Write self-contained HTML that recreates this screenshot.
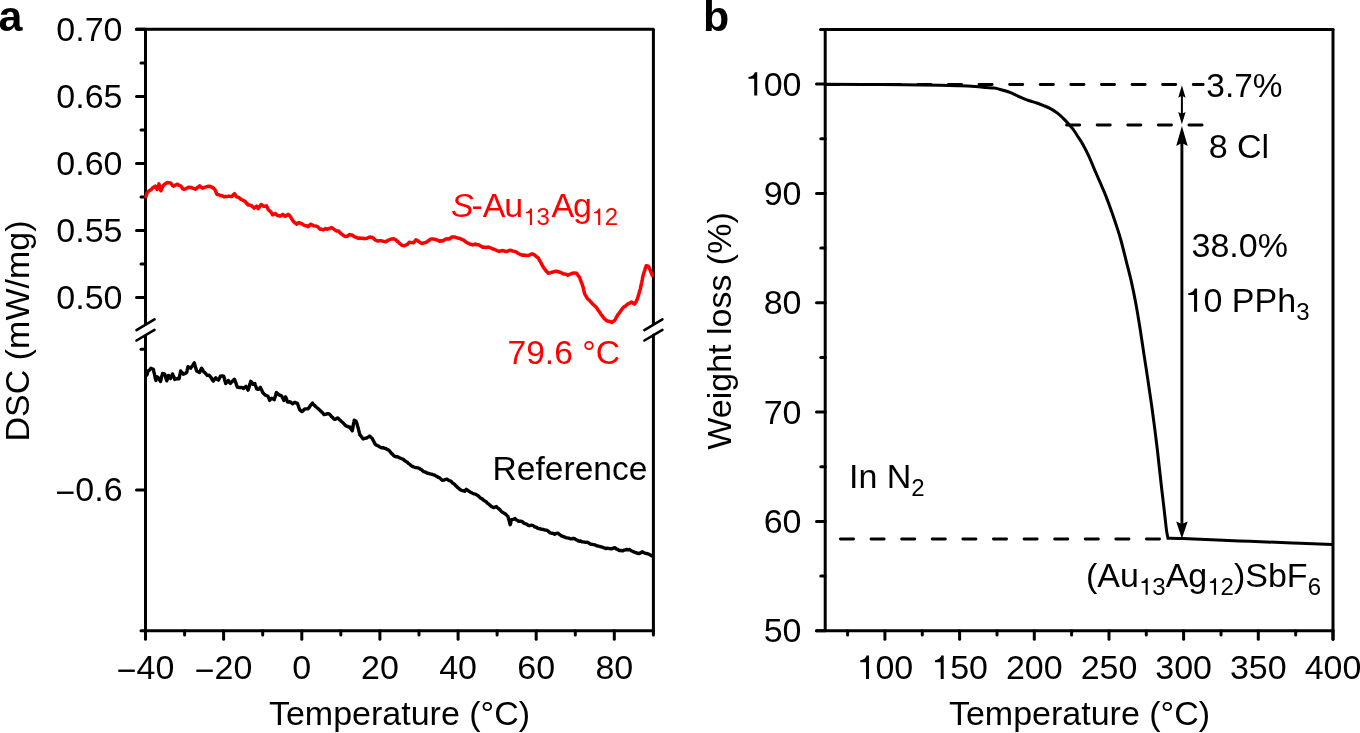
<!DOCTYPE html>
<html><head><meta charset="utf-8"><style>
html,body{margin:0;padding:0;background:#fff;overflow:hidden;}
svg{display:block;will-change:transform;font-family:"Liberation Sans",sans-serif;}
.one{fill-opacity:0;}
</style></head><body>
<svg width="1360" height="733" viewBox="0 0 1360 733">
<rect width="1360" height="733" fill="#fff"/>
<line x1="136.5" y1="29.3" x2="653.4" y2="29.3" stroke="#000" stroke-width="3" stroke-linecap="round" />
<line x1="145.5" y1="29.3" x2="145.5" y2="324.7" stroke="#000" stroke-width="3" stroke-linecap="butt" />
<line x1="145.5" y1="335.1" x2="145.5" y2="630.8" stroke="#000" stroke-width="3" stroke-linecap="butt" />
<line x1="653.4" y1="29.3" x2="653.4" y2="324.9" stroke="#000" stroke-width="3" stroke-linecap="butt" />
<line x1="653.4" y1="335.1" x2="653.4" y2="635.0" stroke="#000" stroke-width="3" stroke-linecap="round" />
<line x1="141.0" y1="630.8" x2="653.4" y2="630.8" stroke="#000" stroke-width="3" stroke-linecap="round" />
<line x1="136.5" y1="330.2" x2="154.5" y2="319.4" stroke="#000" stroke-width="2.6" stroke-linecap="round" />
<line x1="136.5" y1="340.5" x2="154.5" y2="329.8" stroke="#000" stroke-width="2.6" stroke-linecap="round" />
<line x1="644.4" y1="330.2" x2="662.4" y2="319.4" stroke="#000" stroke-width="2.6" stroke-linecap="round" />
<line x1="644.4" y1="340.5" x2="662.4" y2="329.8" stroke="#000" stroke-width="2.6" stroke-linecap="round" />
<line x1="136.5" y1="29.3" x2="145.5" y2="29.3" stroke="#000" stroke-width="3" stroke-linecap="round" />
<line x1="136.5" y1="96.4" x2="145.5" y2="96.4" stroke="#000" stroke-width="3" stroke-linecap="round" />
<line x1="136.5" y1="163.4" x2="145.5" y2="163.4" stroke="#000" stroke-width="3" stroke-linecap="round" />
<line x1="136.5" y1="230.4" x2="145.5" y2="230.4" stroke="#000" stroke-width="3" stroke-linecap="round" />
<line x1="136.5" y1="297.4" x2="145.5" y2="297.4" stroke="#000" stroke-width="3" stroke-linecap="round" />
<line x1="141.0" y1="62.9" x2="145.5" y2="62.9" stroke="#000" stroke-width="3" stroke-linecap="round" />
<line x1="141.0" y1="129.9" x2="145.5" y2="129.9" stroke="#000" stroke-width="3" stroke-linecap="round" />
<line x1="141.0" y1="196.9" x2="145.5" y2="196.9" stroke="#000" stroke-width="3" stroke-linecap="round" />
<line x1="141.0" y1="263.9" x2="145.5" y2="263.9" stroke="#000" stroke-width="3" stroke-linecap="round" />
<line x1="141.0" y1="349.2" x2="145.5" y2="349.2" stroke="#000" stroke-width="3" stroke-linecap="round" />
<line x1="136.5" y1="490.1" x2="145.5" y2="490.1" stroke="#000" stroke-width="3" stroke-linecap="round" />
<line x1="145.5" y1="630.8" x2="145.5" y2="639.2" stroke="#000" stroke-width="3" stroke-linecap="round" />
<line x1="223.6" y1="630.8" x2="223.6" y2="639.2" stroke="#000" stroke-width="3" stroke-linecap="round" />
<line x1="301.8" y1="630.8" x2="301.8" y2="639.2" stroke="#000" stroke-width="3" stroke-linecap="round" />
<line x1="379.9" y1="630.8" x2="379.9" y2="639.2" stroke="#000" stroke-width="3" stroke-linecap="round" />
<line x1="458.1" y1="630.8" x2="458.1" y2="639.2" stroke="#000" stroke-width="3" stroke-linecap="round" />
<line x1="536.2" y1="630.8" x2="536.2" y2="639.2" stroke="#000" stroke-width="3" stroke-linecap="round" />
<line x1="614.3" y1="630.8" x2="614.3" y2="639.2" stroke="#000" stroke-width="3" stroke-linecap="round" />
<line x1="184.6" y1="630.8" x2="184.6" y2="635.0" stroke="#000" stroke-width="3" stroke-linecap="round" />
<line x1="262.7" y1="630.8" x2="262.7" y2="635.0" stroke="#000" stroke-width="3" stroke-linecap="round" />
<line x1="340.8" y1="630.8" x2="340.8" y2="635.0" stroke="#000" stroke-width="3" stroke-linecap="round" />
<line x1="419.0" y1="630.8" x2="419.0" y2="635.0" stroke="#000" stroke-width="3" stroke-linecap="round" />
<line x1="497.1" y1="630.8" x2="497.1" y2="635.0" stroke="#000" stroke-width="3" stroke-linecap="round" />
<line x1="575.3" y1="630.8" x2="575.3" y2="635.0" stroke="#000" stroke-width="3" stroke-linecap="round" />
<text x="122.5" y="40.8" font-size="34" fill="#000" text-anchor="end" >0.70</text>
<text x="122.5" y="107.9" font-size="34" fill="#000" text-anchor="end" >0.65</text>
<text x="122.5" y="174.9" font-size="34" fill="#000" text-anchor="end" >0.60</text>
<text x="122.5" y="241.9" font-size="34" fill="#000" text-anchor="end" >0.55</text>
<text x="122.5" y="308.9" font-size="34" fill="#000" text-anchor="end" >0.50</text>
<text x="122.6" y="501.3" font-size="34" fill="#000" text-anchor="end" ><tspan dy="2.6">&#8722;</tspan><tspan dy="-2.6">0.6</tspan></text>
<text x="145.5" y="679.0" font-size="34" fill="#000" text-anchor="middle" ><tspan dy="2.6">&#8722;</tspan><tspan dy="-2.6">40</tspan></text>
<text x="223.6" y="679.0" font-size="34" fill="#000" text-anchor="middle" ><tspan dy="2.6">&#8722;</tspan><tspan dy="-2.6">20</tspan></text>
<text x="301.8" y="679.0" font-size="34" fill="#000" text-anchor="middle" >0</text>
<text x="379.9" y="679.0" font-size="34" fill="#000" text-anchor="middle" >20</text>
<text x="458.1" y="679.0" font-size="34" fill="#000" text-anchor="middle" >40</text>
<text x="536.2" y="679.0" font-size="34" fill="#000" text-anchor="middle" >60</text>
<text x="614.3" y="679.0" font-size="34" fill="#000" text-anchor="middle" >80</text>
<text x="399.5" y="725.3" font-size="34" fill="#000" text-anchor="middle" >Temperature (°C)</text>
<text x="0" y="0" font-size="34" text-anchor="middle" transform="translate(28.5,331) rotate(-90)">DSC (mW/mg)</text>
<text x="-1.5" y="31" font-size="43" font-weight="bold">a</text>
<line x1="820.8" y1="29.5" x2="1333.0" y2="29.5" stroke="#000" stroke-width="3" stroke-linecap="round" />
<line x1="825.2" y1="29.5" x2="825.2" y2="630.8" stroke="#000" stroke-width="3" stroke-linecap="butt" />
<line x1="1333.0" y1="29.5" x2="1333.0" y2="639.2" stroke="#000" stroke-width="3" stroke-linecap="round" />
<line x1="816.5" y1="630.8" x2="1333.0" y2="630.8" stroke="#000" stroke-width="3" stroke-linecap="round" />
<line x1="816.5" y1="630.8" x2="825.2" y2="630.8" stroke="#000" stroke-width="3" stroke-linecap="round" />
<line x1="816.5" y1="521.5" x2="825.2" y2="521.5" stroke="#000" stroke-width="3" stroke-linecap="round" />
<line x1="816.5" y1="412.1" x2="825.2" y2="412.1" stroke="#000" stroke-width="3" stroke-linecap="round" />
<line x1="816.5" y1="302.8" x2="825.2" y2="302.8" stroke="#000" stroke-width="3" stroke-linecap="round" />
<line x1="816.5" y1="193.4" x2="825.2" y2="193.4" stroke="#000" stroke-width="3" stroke-linecap="round" />
<line x1="816.5" y1="84.1" x2="825.2" y2="84.1" stroke="#000" stroke-width="3" stroke-linecap="round" />
<line x1="820.8" y1="576.1" x2="825.2" y2="576.1" stroke="#000" stroke-width="3" stroke-linecap="round" />
<line x1="820.8" y1="466.8" x2="825.2" y2="466.8" stroke="#000" stroke-width="3" stroke-linecap="round" />
<line x1="820.8" y1="357.4" x2="825.2" y2="357.4" stroke="#000" stroke-width="3" stroke-linecap="round" />
<line x1="820.8" y1="248.1" x2="825.2" y2="248.1" stroke="#000" stroke-width="3" stroke-linecap="round" />
<line x1="820.8" y1="138.8" x2="825.2" y2="138.8" stroke="#000" stroke-width="3" stroke-linecap="round" />
<line x1="820.8" y1="29.4" x2="825.2" y2="29.4" stroke="#000" stroke-width="3" stroke-linecap="round" />
<line x1="884.9" y1="630.8" x2="884.9" y2="639.2" stroke="#000" stroke-width="3" stroke-linecap="round" />
<line x1="959.6" y1="630.8" x2="959.6" y2="639.2" stroke="#000" stroke-width="3" stroke-linecap="round" />
<line x1="1034.3" y1="630.8" x2="1034.3" y2="639.2" stroke="#000" stroke-width="3" stroke-linecap="round" />
<line x1="1109.0" y1="630.8" x2="1109.0" y2="639.2" stroke="#000" stroke-width="3" stroke-linecap="round" />
<line x1="1183.6" y1="630.8" x2="1183.6" y2="639.2" stroke="#000" stroke-width="3" stroke-linecap="round" />
<line x1="1258.3" y1="630.8" x2="1258.3" y2="639.2" stroke="#000" stroke-width="3" stroke-linecap="round" />
<line x1="1333.0" y1="630.8" x2="1333.0" y2="639.2" stroke="#000" stroke-width="3" stroke-linecap="round" />
<line x1="847.6" y1="630.8" x2="847.6" y2="635.0" stroke="#000" stroke-width="3" stroke-linecap="round" />
<line x1="922.3" y1="630.8" x2="922.3" y2="635.0" stroke="#000" stroke-width="3" stroke-linecap="round" />
<line x1="997.0" y1="630.8" x2="997.0" y2="635.0" stroke="#000" stroke-width="3" stroke-linecap="round" />
<line x1="1071.6" y1="630.8" x2="1071.6" y2="635.0" stroke="#000" stroke-width="3" stroke-linecap="round" />
<line x1="1146.3" y1="630.8" x2="1146.3" y2="635.0" stroke="#000" stroke-width="3" stroke-linecap="round" />
<line x1="1221.0" y1="630.8" x2="1221.0" y2="635.0" stroke="#000" stroke-width="3" stroke-linecap="round" />
<line x1="1295.7" y1="630.8" x2="1295.7" y2="635.0" stroke="#000" stroke-width="3" stroke-linecap="round" />
<text x="801.5" y="642.3" font-size="34" fill="#000" text-anchor="end" >50</text>
<text x="801.5" y="533.0" font-size="34" fill="#000" text-anchor="end" >60</text>
<text x="801.5" y="423.6" font-size="34" fill="#000" text-anchor="end" >70</text>
<text x="801.5" y="314.3" font-size="34" fill="#000" text-anchor="end" >80</text>
<text x="801.5" y="204.9" font-size="34" fill="#000" text-anchor="end" >90</text>
<text x="801.5" y="95.6" font-size="34" fill="#000" text-anchor="end" ><tspan class="one">1</tspan>00</text>
<text x="884.9" y="679.0" font-size="34" fill="#000" text-anchor="middle" ><tspan class="one">1</tspan>00</text>
<text x="959.6" y="679.0" font-size="34" fill="#000" text-anchor="middle" ><tspan class="one">1</tspan>50</text>
<text x="1034.3" y="679.0" font-size="34" fill="#000" text-anchor="middle" >200</text>
<text x="1109.0" y="679.0" font-size="34" fill="#000" text-anchor="middle" >250</text>
<text x="1183.6" y="679.0" font-size="34" fill="#000" text-anchor="middle" >300</text>
<text x="1258.3" y="679.0" font-size="34" fill="#000" text-anchor="middle" >350</text>
<text x="1333.0" y="679.0" font-size="34" fill="#000" text-anchor="middle" >400</text>
<text x="1079.5" y="724.6" font-size="34" fill="#000" text-anchor="middle" >Temperature (°C)</text>
<text x="0" y="0" font-size="34" text-anchor="middle" transform="translate(731.3,331) rotate(-90)">Weight loss (%)</text>
<text x="703" y="31" font-size="43" font-weight="bold">b</text>
<path d="M146.0,196.5 L146.5,194.7 L147.0,193.2 L148.0,191.8 L149.0,190.8 L150.3,190.1 L151.6,189.2 L152.6,187.9 L153.6,187.2 L155.2,186.2 L156.2,187.9 L157.2,189.5 L157.6,188.0 L158.1,186.4 L158.5,185.3 L158.9,183.9 L159.3,185.0 L159.7,186.6 L160.1,187.7 L160.5,189.1 L160.9,190.8 L161.6,189.2 L162.2,188.0 L162.9,186.2 L164.2,184.6 L165.8,183.3 L167.5,182.6 L169.2,182.7 L170.8,183.2 L171.7,184.3 L172.5,185.5 L173.4,186.2 L174.7,185.6 L176.1,184.8 L177.4,184.2 L179.1,185.4 L180.7,185.9 L181.7,187.1 L182.7,188.9 L184.1,189.2 L185.4,188.9 L186.7,188.2 L188.0,187.5 L189.3,187.2 L190.9,187.4 L192.6,188.2 L193.9,188.6 L195.3,189.2 L196.4,188.6 L197.4,187.3 L198.5,186.8 L199.6,185.9 L201.1,187.1 L202.6,188.2 L203.9,187.6 L205.2,187.2 L206.8,186.7 L208.5,186.2 L210.1,186.5 L211.6,187.0 L213.2,187.9 L214.1,188.7 L215.1,189.9 L215.8,191.6 L216.4,192.9 L217.1,194.5 L218.4,194.7 L219.8,195.2 L221.1,195.5 L222.8,196.1 L224.4,196.8 L225.9,196.4 L227.5,196.5 L229.0,196.1 L230.5,196.4 L232.0,196.4 L233.2,194.9 L234.5,193.7 L235.5,195.3 L236.5,196.8 L237.8,197.2 L239.0,197.6 L240.1,198.7 L241.2,199.4 L242.3,200.0 L243.9,200.7 L245.5,201.7 L246.3,203.1 L247.2,203.6 L248.0,205.0 L249.7,205.1 L251.3,205.4 L252.2,206.5 L253.2,207.0 L254.1,208.2 L255.4,207.2 L256.6,206.2 L257.4,207.1 L258.2,208.6 L259.2,207.4 L260.1,206.1 L261.1,204.5 L262.4,205.4 L263.6,206.2 L265.0,206.3 L266.4,205.8 L267.1,207.0 L267.8,208.7 L268.5,209.9 L269.7,211.0 L270.9,211.9 L271.8,213.4 L272.6,214.8 L274.0,214.2 L275.4,213.6 L277.1,215.2 L278.5,215.8 L279.9,216.0 L281.4,215.5 L282.8,214.4 L284.0,215.4 L285.2,216.4 L286.6,215.5 L288.1,214.4 L289.4,215.3 L290.6,216.8 L291.3,218.1 L292.0,219.2 L292.7,220.5 L293.4,221.3 L294.5,222.5 L295.6,223.1 L296.7,224.2 L298.7,222.6 L300.4,223.1 L302.0,223.8 L303.2,224.7 L304.5,225.4 L306.3,225.7 L308.1,226.6 L309.4,225.4 L310.6,224.2 L312.1,224.8 L313.5,225.8 L315.4,225.9 L317.3,226.6 L318.3,227.2 L319.3,228.5 L320.3,229.2 L321.8,229.3 L323.3,229.9 L324.5,229.1 L325.6,228.6 L327.6,229.2 L328.8,228.6 L330.0,228.4 L331.2,227.6 L332.4,228.0 L333.5,228.9 L334.9,229.9 L336.2,230.9 L338.5,230.9 L339.6,232.2 L340.8,233.5 L342.8,234.9 L344.8,236.5 L347.1,236.2 L348.2,235.6 L349.4,234.5 L351.0,235.1 L352.7,235.2 L354.0,236.5 L355.4,237.2 L356.7,237.5 L358.0,238.2 L359.6,238.1 L361.3,238.2 L362.6,238.2 L364.0,238.7 L365.3,238.5 L367.1,238.2 L368.9,237.2 L370.8,237.1 L372.6,237.5 L373.9,238.6 L375.2,240.1 L376.5,240.4 L377.9,241.1 L379.5,240.8 L381.2,240.8 L382.7,241.1 L384.3,241.5 L385.8,241.8 L386.9,241.0 L388.1,240.2 L389.2,239.8 L390.4,239.2 L392.1,238.9 L393.8,238.8 L395.7,239.8 L397.0,241.0 L398.4,242.1 L399.5,243.4 L400.6,244.2 L401.7,245.1 L404.0,245.8 L405.6,245.2 L407.3,244.5 L408.3,243.4 L409.3,242.2 L410.6,242.6 L411.9,242.4 L413.2,242.9 L414.1,242.2 L415.0,241.1 L415.9,239.9 L417.9,240.9 L419.2,242.0 L420.5,242.8 L421.8,243.5 L423.4,243.0 L424.9,242.6 L426.5,242.2 L427.8,240.9 L429.1,240.3 L430.4,239.2 L431.7,238.9 L433.1,238.9 L434.4,239.2 L435.7,239.5 L437.0,240.0 L438.4,240.6 L439.7,241.2 L441.4,240.7 L443.0,240.9 L444.6,239.6 L446.3,238.9 L448.0,238.7 L449.6,238.9 L451.0,237.6 L452.3,236.9 L453.6,237.0 L455.0,237.0 L456.3,237.6 L458.0,238.2 L459.6,238.2 L461.2,239.1 L462.9,239.9 L464.0,240.4 L465.1,241.3 L466.2,242.2 L467.5,242.8 L468.9,243.4 L470.2,244.2 L471.5,244.3 L472.8,244.9 L474.1,244.6 L475.4,243.9 L476.7,244.7 L478.1,244.7 L479.4,245.2 L481.0,246.2 L482.7,247.2 L484.4,247.1 L486.0,247.5 L488.4,247.1 L490.1,247.6 L491.8,248.6 L493.2,249.0 L494.5,249.4 L495.9,250.0 L497.6,250.9 L499.3,251.4 L500.7,250.9 L502.0,250.6 L503.4,250.7 L505.1,251.4 L506.8,251.4 L508.2,250.9 L509.6,250.3 L511.2,250.4 L512.7,251.1 L514.3,251.4 L516.0,251.9 L517.7,253.1 L519.5,254.0 L521.2,254.8 L522.9,255.3 L524.6,255.1 L526.0,255.5 L527.3,255.5 L528.7,255.5 L530.4,254.5 L532.1,253.8 L533.2,254.4 L534.4,254.9 L535.5,255.8 L536.9,257.0 L538.2,257.9 L538.9,259.2 L539.6,260.6 L540.3,261.6 L541.0,262.7 L541.6,263.9 L542.3,265.4 L543.2,267.0 L544.1,268.4 L545.0,269.4 L546.1,270.9 L547.3,272.1 L548.4,273.2 L550.1,272.9 L551.8,272.2 L553.4,272.0 L555.0,271.3 L556.6,271.2 L558.3,271.7 L560.0,272.2 L561.7,272.9 L563.4,273.9 L564.9,274.0 L566.4,274.4 L567.9,275.2 L569.5,274.4 L571.0,273.9 L572.5,273.2 L574.1,272.9 L576.6,273.2 L577.4,274.4 L578.2,275.7 L578.9,276.4 L579.7,277.5 L580.2,279.2 L580.7,280.7 L581.3,282.1 L581.8,283.2 L582.3,284.7 L582.7,285.8 L583.0,287.1 L583.4,288.4 L583.7,289.8 L584.1,291.4 L584.4,292.9 L584.8,293.9 L585.4,295.3 L586.1,296.2 L586.8,297.5 L587.4,298.5 L588.4,299.7 L589.5,300.3 L590.5,301.7 L591.5,302.6 L592.4,303.8 L593.3,304.6 L594.3,305.5 L595.2,306.3 L596.1,307.2 L597.0,308.2 L597.9,310.0 L598.8,310.9 L599.7,312.3 L600.5,313.6 L601.3,314.9 L602.1,315.6 L602.9,316.7 L603.7,317.9 L604.9,319.2 L606.1,320.1 L607.3,321.0 L608.8,321.3 L610.4,321.7 L611.9,322.5 L612.9,321.4 L614.0,321.1 L615.0,319.9 L615.8,318.7 L616.5,316.9 L617.3,315.9 L618.1,314.3 L619.0,313.5 L619.8,312.2 L620.7,310.9 L621.5,309.9 L622.4,308.5 L623.2,307.7 L624.2,306.5 L625.2,306.4 L626.3,305.3 L627.3,304.4 L628.3,303.6 L629.8,303.1 L631.4,302.0 L632.9,303.0 L634.4,304.1 L635.2,303.1 L636.0,301.8 L636.7,300.1 L637.5,299.0 L637.8,297.6 L638.2,296.3 L638.5,295.1 L638.9,294.0 L639.2,292.6 L639.6,291.4 L639.9,290.0 L640.3,289.2 L640.6,287.7 L640.9,286.2 L641.2,285.0 L641.4,283.7 L641.7,282.6 L642.0,280.9 L642.3,279.9 L642.5,278.2 L642.8,276.9 L643.1,275.5 L643.5,274.1 L644.0,272.4 L644.4,271.3 L644.9,269.7 L645.3,268.2 L645.8,267.3 L646.2,265.7 L648.2,266.2 L648.9,267.3 L649.6,268.9 L650.3,270.3 L650.8,271.8 L651.3,272.9 L651.8,274.1 L652.3,275.5" fill="none" stroke="#ff0000" stroke-width="3.5" stroke-linejoin="round" stroke-linecap="round"/>
<path d="M147.0,374.9 L147.3,373.6 L147.7,372.3 L148.0,370.9 L149.3,370.2 L150.9,368.2 L152.1,368.9 L153.3,369.2 L153.6,370.3 L153.9,372.1 L154.3,373.3 L154.6,374.9 L154.9,376.1 L155.2,377.9 L155.6,379.1 L155.9,380.5 L156.3,379.3 L156.8,378.2 L157.2,376.8 L158.9,378.2 L159.7,380.1 L160.5,381.5 L160.8,380.1 L161.2,378.9 L161.5,377.5 L161.8,376.2 L162.2,375.0 L162.5,373.5 L164.8,374.2 L165.2,375.5 L165.6,376.9 L166.0,378.1 L166.4,379.8 L166.8,380.8 L167.2,379.6 L167.7,378.4 L168.1,377.1 L168.5,375.5 L169.5,376.8 L170.5,378.5 L171.2,377.0 L171.8,375.7 L172.5,373.9 L173.1,375.5 L173.7,376.4 L174.2,377.8 L174.8,379.5 L176.1,379.0 L177.4,378.5 L179.1,378.8 L179.4,377.2 L179.6,376.0 L179.9,374.6 L180.2,373.7 L180.4,372.4 L180.7,370.9 L181.6,372.3 L182.5,372.9 L183.4,374.2 L185.1,373.5 L186.7,372.5 L187.0,371.1 L187.3,369.3 L187.7,368.3 L188.0,366.6 L189.3,367.7 L190.7,368.2 L191.6,366.7 L192.5,365.9 L193.4,364.2 L194.3,362.9 L194.7,364.2 L195.1,365.9 L195.4,367.1 L195.8,368.0 L196.2,369.5 L196.6,370.9 L198.1,371.7 L199.6,372.5 L200.3,371.0 L200.9,369.4 L201.6,368.2 L202.4,369.3 L203.1,370.8 L203.9,371.9 L205.0,372.7 L206.1,374.1 L207.2,375.2 L209.2,375.2 L210.0,376.3 L210.8,377.2 L211.6,378.6 L212.4,380.0 L213.2,381.1 L214.1,380.0 L214.9,378.6 L215.8,377.8 L217.1,379.3 L218.4,380.1 L219.1,379.0 L219.7,377.8 L220.4,376.2 L222.1,375.9 L223.7,376.2 L224.1,377.5 L224.5,378.8 L224.9,380.8 L225.3,381.9 L225.7,383.5 L226.6,382.2 L227.5,381.4 L228.4,380.5 L229.4,382.3 L230.4,383.5 L232.0,381.6 L233.2,380.6 L234.4,379.2 L235.0,380.5 L235.5,381.9 L236.1,383.6 L236.6,385.2 L237.0,386.2 L237.5,387.4 L239.2,387.5 L240.9,387.4 L242.2,387.6 L243.6,388.4 L244.8,387.1 L246.0,386.4 L246.7,387.8 L247.4,388.8 L248.1,390.1 L248.5,388.5 L248.9,387.9 L249.3,386.4 L249.6,385.3 L250.0,383.5 L250.4,382.8 L250.8,381.3 L251.9,382.5 L252.9,384.3 L254.9,383.6 L255.3,385.2 L255.8,386.2 L256.2,387.4 L256.6,388.8 L258.3,389.4 L259.4,388.4 L260.4,387.4 L261.0,389.0 L261.5,389.8 L262.1,391.0 L262.7,392.5 L264.1,393.9 L265.5,395.2 L266.7,395.6 L267.9,396.3 L268.5,397.4 L269.0,398.8 L269.6,400.4 L270.6,399.0 L271.6,398.3 L273.0,398.8 L274.3,399.7 L274.7,398.1 L275.1,396.7 L275.6,395.6 L276.0,393.8 L276.4,392.5 L277.8,393.7 L279.1,394.9 L281.5,395.9 L282.3,397.2 L283.1,398.8 L283.9,400.4 L284.8,398.3 L285.6,396.9 L286.1,398.0 L286.6,399.2 L287.1,401.0 L287.6,402.1 L290.0,401.7 L291.2,402.8 L292.4,403.8 L293.6,402.9 L294.8,402.4 L296.1,402.9 L297.5,403.4 L297.9,404.9 L298.3,405.6 L298.8,407.3 L299.2,408.3 L299.6,409.6 L300.8,410.6 L302.0,411.6 L303.0,410.9 L304.0,409.7 L305.0,408.9 L306.4,408.9 L307.8,408.9 L308.6,408.0 L309.4,407.2 L310.2,405.8 L311.4,404.3 L312.5,403.1 L313.4,404.4 L314.4,405.3 L315.3,406.2 L316.5,407.3 L317.6,408.2 L318.8,409.3 L319.9,410.3 L320.9,411.1 L322.0,412.2 L323.0,413.2 L324.1,414.6 L325.5,414.4 L327.0,413.8 L328.4,413.6 L329.5,414.3 L330.5,415.3 L331.6,416.8 L332.7,417.5 L333.6,418.7 L334.6,419.4 L336.1,418.8 L337.5,417.9 L338.6,418.7 L339.6,419.7 L340.7,420.7 L341.8,421.8 L342.9,422.8 L344.0,423.7 L345.0,425.0 L346.1,426.1 L347.4,426.2 L348.6,427.0 L349.9,427.0 L350.7,428.6 L351.5,429.6 L352.3,430.8 L352.5,429.3 L352.8,428.5 L353.0,426.7 L353.2,425.4 L353.5,423.9 L353.7,422.8 L354.0,421.6 L354.2,420.3 L356.1,421.3 L356.6,422.9 L357.1,424.2 L357.5,426.0 L358.0,427.5 L358.3,428.4 L358.6,429.9 L358.9,431.0 L359.3,432.5 L359.6,433.5 L359.9,435.1 L361.0,436.1 L362.1,437.6 L363.2,439.0 L364.9,438.3 L366.6,438.0 L368.1,437.1 L369.5,436.1 L370.9,437.3 L372.3,438.5 L373.0,440.1 L373.8,441.5 L374.5,442.9 L375.2,444.2 L376.4,445.2 L377.6,445.6 L378.8,446.3 L380.0,447.1 L381.4,447.8 L382.9,447.6 L384.3,448.3 L385.7,448.5 L387.0,449.4 L388.2,449.8 L389.5,450.9 L390.5,452.2 L391.4,453.3 L392.4,454.1 L393.3,455.2 L394.3,456.1 L395.9,456.8 L397.5,456.8 L399.1,457.6 L400.5,458.2 L401.9,458.8 L403.3,459.4 L404.7,460.6 L406.0,461.5 L407.4,462.3 L408.6,463.6 L409.9,464.4 L411.1,465.6 L412.3,466.4 L413.7,466.9 L415.0,467.3 L416.4,467.6 L417.8,467.9 L419.1,468.3 L420.5,469.2 L421.6,469.8 L422.6,470.8 L423.7,471.7 L425.3,472.0 L427.0,473.0 L428.6,473.3 L430.1,473.8 L431.5,474.2 L432.9,474.7 L434.4,475.0 L435.8,475.9 L437.1,476.6 L438.5,477.4 L439.9,478.0 L441.2,479.5 L442.6,480.3 L443.9,480.1 L445.3,479.5 L446.6,479.1 L447.9,479.8 L449.1,480.6 L450.4,480.9 L451.6,481.9 L452.6,483.0 L453.6,483.6 L454.6,484.4 L455.6,485.6 L456.6,486.4 L457.6,487.6 L458.7,488.2 L459.7,489.3 L460.9,490.0 L462.1,490.6 L463.4,490.8 L464.6,491.3 L465.5,490.2 L466.3,489.3 L467.5,490.1 L468.8,491.1 L470.0,492.0 L471.2,492.6 L472.6,493.3 L474.0,493.9 L475.5,494.1 L476.9,495.0 L477.9,495.6 L478.9,496.5 L480.0,497.6 L481.0,498.3 L482.4,499.1 L483.7,500.2 L485.1,501.1 L486.4,502.0 L487.7,503.5 L488.8,504.1 L490.0,505.2 L491.1,506.3 L492.5,507.1 L493.9,507.6 L495.1,507.2 L496.3,506.6 L497.5,507.7 L498.6,508.6 L499.8,509.6 L500.9,510.9 L502.1,512.1 L503.6,512.9 L505.1,513.8 L506.5,515.1 L507.9,516.5 L508.3,517.7 L508.8,519.7 L509.2,520.9 L509.5,522.0 L509.9,523.8 L510.2,524.7 L510.6,523.7 L510.9,521.8 L511.2,520.8 L511.6,519.6 L513.3,519.3 L515.0,518.5 L516.1,519.8 L517.3,520.3 L518.4,521.3 L519.8,521.1 L521.2,521.3 L522.5,521.9 L523.9,523.1 L525.2,523.6 L526.6,524.1 L527.9,525.1 L529.3,525.7 L531.0,525.3 L532.7,525.4 L533.9,526.1 L535.1,527.1 L536.3,527.2 L537.5,528.1 L538.9,528.6 L540.2,528.8 L541.6,529.3 L543.0,529.4 L544.6,530.0 L546.2,530.1 L547.8,530.8 L549.1,532.1 L550.5,532.9 L551.9,533.3 L553.2,533.4 L554.6,534.2 L556.3,533.4 L558.0,533.2 L559.1,534.1 L560.3,535.0 L561.4,535.9 L562.8,536.3 L564.1,536.8 L565.5,537.6 L567.1,537.9 L568.7,538.2 L570.3,538.7 L571.7,538.9 L573.2,538.3 L574.6,538.6 L576.2,539.8 L577.9,540.6 L579.2,541.2 L580.5,541.0 L581.9,541.9 L583.2,541.9 L584.5,542.1 L585.9,542.4 L587.2,542.2 L588.9,543.1 L590.5,544.2 L592.0,544.3 L593.6,544.6 L595.1,544.9 L596.7,545.8 L598.2,546.0 L599.8,546.5 L601.3,546.9 L602.8,547.4 L604.2,547.8 L605.7,548.5 L607.3,548.3 L608.8,548.4 L610.4,548.8 L611.9,548.7 L613.5,548.0 L615.0,547.8 L616.3,549.0 L617.7,549.4 L619.0,550.5 L620.3,550.4 L621.6,550.7 L622.9,550.8 L624.2,550.1 L625.6,549.8 L626.9,549.5 L628.2,549.8 L629.6,549.5 L631.2,550.8 L632.9,551.5 L634.4,552.2 L635.8,552.6 L637.3,553.3 L638.8,553.5 L640.5,553.0 L642.1,551.8 L643.4,552.4 L644.8,553.1 L646.1,553.5 L647.8,553.7 L649.4,554.5 L650.8,555.3 L652.1,555.8" fill="none" stroke="#000" stroke-width="3.4" stroke-linejoin="round" stroke-linecap="round"/>
<text x="451" y="217.1" font-size="34" fill="#ff0000"><tspan font-style="italic">S</tspan><tspan dx="-2.2">-A</tspan><tspan dx="-1.2">u</tspan><tspan font-size="24" dy="8"><tspan class="one">1</tspan>3</tspan><tspan dy="-8" dx="1.5">A</tspan><tspan dx="-1.2">g</tspan><tspan font-size="24" dy="8" dx="-0.4"><tspan class="one">1</tspan>2</tspan></text>
<text x="507.5" y="364.4" font-size="34" fill="#ff0000" text-anchor="start" textLength="112.4" lengthAdjust="spacingAndGlyphs">79.6 °C</text>
<text x="492.6" y="479.9" font-size="34" fill="#000" text-anchor="start" textLength="154.8" lengthAdjust="spacingAndGlyphs">Reference</text>
<line x1="826.0" y1="84.5" x2="1203.2" y2="84.5" stroke="#000" stroke-width="2.8" stroke-linecap="round" stroke-dasharray="13.2 17.4"/>
<line x1="1066.5" y1="125.0" x2="1202.1" y2="125.0" stroke="#000" stroke-width="2.8" stroke-linecap="round" stroke-dasharray="13.2 17.4"/>
<line x1="840.4" y1="539.0" x2="1168.0" y2="539.0" stroke="#000" stroke-width="2.8" stroke-linecap="round" stroke-dasharray="13.2 17.4"/>
<path d="M825.10,84.20 C834.25,84.27 860.85,84.42 880.00,84.60 C899.15,84.78 926.67,85.10 940.00,85.30 C953.33,85.50 954.17,85.60 960.00,85.80 C965.83,86.00 970.68,86.23 975.00,86.50 C979.32,86.77 982.72,87.13 985.90,87.40 C989.08,87.67 991.83,87.80 994.10,88.10 C996.37,88.40 997.68,88.75 999.50,89.20 C1001.32,89.65 1003.17,90.22 1005.00,90.80 C1006.83,91.38 1008.68,91.97 1010.50,92.70 C1012.32,93.43 1014.08,94.38 1015.90,95.20 C1017.72,96.02 1019.58,96.83 1021.40,97.60 C1023.22,98.37 1024.98,99.13 1026.80,99.80 C1028.62,100.47 1030.63,101.07 1032.30,101.60 C1033.97,102.13 1034.92,102.33 1036.80,103.00 C1038.68,103.67 1041.32,104.67 1043.60,105.60 C1045.88,106.53 1048.45,107.53 1050.50,108.60 C1052.55,109.67 1054.20,110.80 1055.90,112.00 C1057.60,113.20 1059.22,114.48 1060.70,115.80 C1062.18,117.12 1063.43,118.48 1064.80,119.90 C1066.17,121.32 1067.53,122.77 1068.90,124.30 C1070.27,125.83 1071.65,127.28 1073.00,129.10 C1074.35,130.92 1075.35,132.65 1077.00,135.20 C1078.65,137.75 1080.95,140.95 1082.90,144.40 C1084.85,147.85 1086.78,151.75 1088.70,155.90 C1090.62,160.05 1092.48,164.83 1094.40,169.30 C1096.32,173.77 1098.28,178.23 1100.20,182.70 C1102.12,187.17 1104.00,191.32 1105.90,196.10 C1107.80,200.88 1109.68,205.98 1111.60,211.40 C1113.52,216.82 1115.83,223.75 1117.40,228.60 C1118.97,233.45 1119.50,234.97 1121.00,240.50 C1122.50,246.03 1124.60,254.62 1126.40,261.80 C1128.20,268.98 1130.17,276.33 1131.80,283.60 C1133.43,290.87 1134.78,297.67 1136.20,305.40 C1137.62,313.13 1139.00,321.80 1140.30,330.00 C1141.60,338.20 1142.75,346.40 1144.00,354.60 C1145.25,362.80 1146.57,371.00 1147.80,379.20 C1149.03,387.40 1150.25,395.60 1151.40,403.80 C1152.55,412.00 1153.70,420.70 1154.70,428.40 C1155.70,436.10 1156.58,443.07 1157.40,450.00 C1158.22,456.93 1158.90,463.67 1159.60,470.00 C1160.30,476.33 1160.95,482.33 1161.60,488.00 C1162.25,493.67 1162.90,498.83 1163.50,504.00 C1164.10,509.17 1164.68,514.50 1165.20,519.00 C1165.72,523.50 1166.13,527.78 1166.60,531.00 C1167.07,534.22 1167.77,537.08 1168.00,538.30 L1168.00,538.30 C1170.42,538.35 1170.60,538.17 1182.50,538.60 C1194.40,539.03 1221.10,540.18 1239.40,540.90 C1257.70,541.62 1276.85,542.28 1292.30,542.90 C1307.75,543.52 1325.47,544.32 1332.10,544.60" fill="none" stroke="#000" stroke-width="3" stroke-linejoin="miter" stroke-linecap="butt"/>
<line x1="1181.9" y1="95.0" x2="1181.9" y2="114.0" stroke="#000" stroke-width="2.0" stroke-linecap="butt" />
<path d="M1181.9,85.3 L1185.6,97.7 L1181.9,95.8 L1178.2,97.7 Z" fill="#000"/>
<path d="M1181.9,124.2 L1185.6,112.0 L1181.9,113.8 L1178.2,112.0 Z" fill="#000"/>
<line x1="1181.9" y1="140.0" x2="1181.9" y2="526.0" stroke="#000" stroke-width="2.9" stroke-linecap="butt" />
<path d="M1181.9,125.9 L1187.7,146.0 L1181.9,143.0 L1176.2,146.0 Z" fill="#000"/>
<path d="M1181.9,538.7 L1187.7,521.5 L1181.9,524.1 L1176.2,521.5 Z" fill="#000"/>
<text x="1206.3" y="96.8" font-size="34" fill="#000" text-anchor="start" textLength="76.2" lengthAdjust="spacingAndGlyphs">3.7%</text>
<text x="1208.7" y="158.0" font-size="34" fill="#000" text-anchor="start" >8 Cl</text>
<text x="1191.5" y="256.8" font-size="34" fill="#000" text-anchor="start" >38.0%</text>
<text x="1184.6" y="311.8" font-size="34"><tspan class="one">1</tspan>0 PPh<tspan font-size="24" dy="8">3</tspan></text>
<text x="849" y="488.1" font-size="34">In N<tspan font-size="24" dy="8">2</tspan></text>
<text x="1086" y="586.7" font-size="34">(Au<tspan font-size="24" dy="8"><tspan class="one">1</tspan>3</tspan><tspan dy="-8">Ag</tspan><tspan font-size="24" dy="8"><tspan class="one">1</tspan>2</tspan><tspan dy="-8">)SbF</tspan><tspan font-size="24" dy="8">6</tspan></text>
<path d="M570,0H752V1409H603C577,1296 475,1146 225,1128V1008H570Z" transform="translate(744.75,95.60) scale(0.01660,-0.01660)" fill="rgb(0, 0, 0)"/>
<path d="M570,0H752V1409H603C577,1296 475,1146 225,1128V1008H570Z" transform="translate(856.53,679.00) scale(0.01660,-0.01660)" fill="rgb(0, 0, 0)"/>
<path d="M570,0H752V1409H603C577,1296 475,1146 225,1128V1008H570Z" transform="translate(931.22,679.00) scale(0.01660,-0.01660)" fill="rgb(0, 0, 0)"/>
<path d="M570,0H752V1409H603C577,1296 475,1146 225,1128V1008H570Z" transform="translate(523.21,225.10) scale(0.01172,-0.01172)" fill="rgb(255, 0, 0)"/>
<path d="M570,0H752V1409H603C577,1296 475,1146 225,1128V1008H570Z" transform="translate(591.44,225.10) scale(0.01172,-0.01172)" fill="rgb(255, 0, 0)"/>
<path d="M570,0H752V1409H603C577,1296 475,1146 225,1128V1008H570Z" transform="translate(1184.60,311.80) scale(0.01660,-0.01660)" fill="rgb(0, 0, 0)"/>
<path d="M570,0H752V1409H603C577,1296 475,1146 225,1128V1008H570Z" transform="translate(1138.92,594.70) scale(0.01172,-0.01172)" fill="rgb(0, 0, 0)"/>
<path d="M570,0H752V1409H603C577,1296 475,1146 225,1128V1008H570Z" transform="translate(1207.23,594.70) scale(0.01172,-0.01172)" fill="rgb(0, 0, 0)"/>
</svg>
</body></html>
